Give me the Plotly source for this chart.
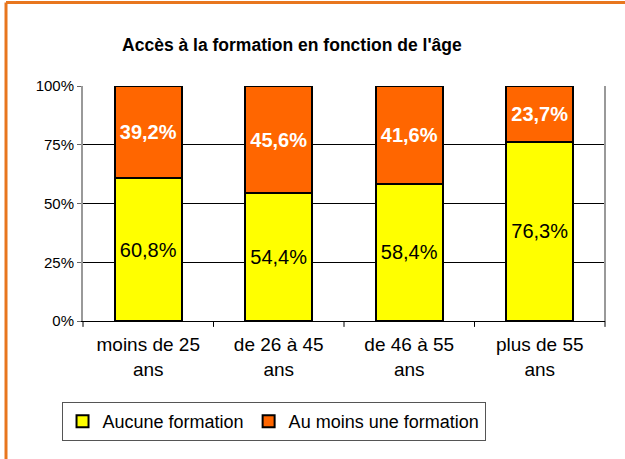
import plotly.graph_objects as go

categories = ["moins de 25<br>ans", "de 26 à 45<br>ans", "de 46 à 55<br>ans", "plus de 55<br>ans"]
aucune = [60.8, 54.4, 58.4, 76.3]
au_moins = [39.2, 45.6, 41.6, 23.7]
series_names = ["Aucune formation", "Au moins une formation"]
tick_vals = [0, 25, 50, 75, 100]
tick_text = ["0%", "25%", "50%", "75%", "100%"]

def fmt(v):
    return f"{v:.1f}".replace(".", ",") + "%"

FONT = "Arial, Liberation Sans, sans-serif"

fig = go.Figure()
fig.add_trace(go.Bar(
    x=categories, y=aucune, name=series_names[0],
    marker=dict(color="#FFFF00", line=dict(color="#000000", width=2)),
    text=[fmt(v) for v in aucune], textposition="inside", insidetextanchor="middle",
    textfont=dict(family=FONT, size=20, color="#000000"),
    width=0.51,
))
fig.add_trace(go.Bar(
    x=categories, y=au_moins, name=series_names[1],
    marker=dict(color="#FF6600", line=dict(color="#000000", width=2)),
    text=["<b>" + fmt(v) + "</b>" for v in au_moins], textposition="inside", insidetextanchor="middle",
    textfont=dict(family=FONT, size=20, color="#FFFFFF"),
    width=0.51,
))

fig.update_layout(
    barmode="stack",
    width=625, height=459,
    margin=dict(l=83, r=20, t=86, b=138),
    paper_bgcolor="#FFFFFF", plot_bgcolor="#FFFFFF",
    font=dict(family=FONT, color="#000000"),
    title=dict(text="<b>Accès à la formation en fonction de l'âge</b>",
               x=0.467, xref="container", xanchor="center",
               y=0.902, yref="container", yanchor="middle",
               font=dict(family=FONT, size=17.5, color="#000000")),
    showlegend=True,
    legend=dict(orientation="h", x=0.365, xanchor="center", y=-0.345, yanchor="top",
                bordercolor="#555555", borderwidth=1, bgcolor="#FFFFFF",
                font=dict(family=FONT, size=18, color="#000000"),
                traceorder="normal", itemsizing="constant", tracegroupgap=0,
                itemwidth=30),
    uniformtext=dict(mode=False),
    bargap=0.49,
)
fig.update_xaxes(
    showgrid=False, showline=True, linecolor="#000000", linewidth=1,
    ticks="", tickfont=dict(family=FONT, size=19, color="#000000"),
    ticklabelstandoff=6,
    mirror=False,
)
fig.update_yaxes(
    range=[0, 100], tickvals=tick_vals, ticktext=tick_text,
    showgrid=True, gridcolor="#000000", gridwidth=1,
    showline=True, linecolor="#999999", linewidth=2,
    ticks="outside", ticklen=4, tickcolor="#666666",
    tickfont=dict(family=FONT, size=15, color="#000000"),
    zeroline=False,
)
# plot area border (right side) and category tick marks
fig.add_shape(type="line", xref="paper", yref="paper", x0=1, x1=1, y0=0, y1=1,
              line=dict(color="#999999", width=2))
for i in range(5):
    fig.add_shape(type="line", xref="paper", yref="paper", x0=i / 4, x1=i / 4, y0=0, y1=-0.025,
                  line=dict(color="#000000", width=1))
# orange frame (left and top edges)
fig.add_shape(type="line", xref="paper", yref="paper", x0=-0.1475, x1=-0.1475, y0=-0.7, y1=1.355,
              line=dict(color="#E8761E", width=3))
fig.add_shape(type="line", xref="paper", yref="paper", x0=-0.1475, x1=1.2, y0=1.355, y1=1.355,
              line=dict(color="#E8761E", width=3))

fig.write_html("out.html", config={"displayModeBar": False},
               post_script="document.body.style.margin='0';")
